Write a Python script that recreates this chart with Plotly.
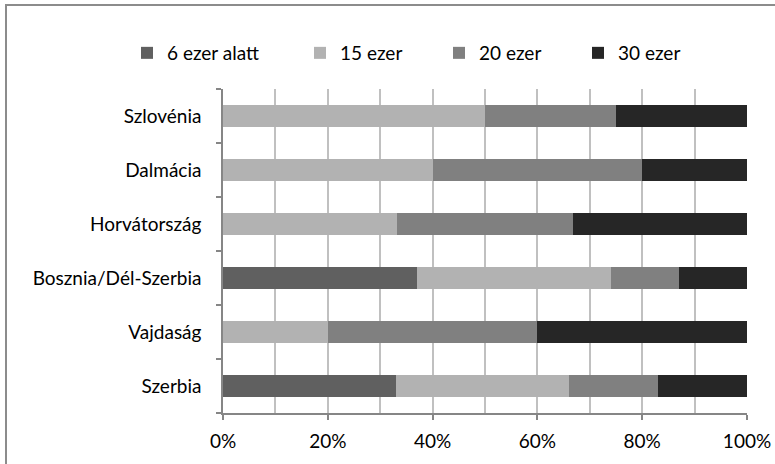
import plotly.graph_objects as go

categories = ["Szerbia", "Vajdaság", "Bosznia/Dél-Szerbia", "Horvátország", "Dalmácia", "Szlovénia"]
series_names = ["6 ezer alatt", "15 ezer", "20 ezer", "30 ezer"]
s_6ezer = [33, 0, 37, 0, 0, 0]
s_15ezer = [33, 20, 37, 33.3, 40, 50]
s_20ezer = [17, 40, 13, 33.4, 40, 25]
s_30ezer = [17, 40, 13, 33.3, 20, 25]
x_tick_vals = [0, 20, 40, 60, 80, 100]
x_tick_text = ["0%", "20%", "40%", "60%", "80%", "100%"]

colors = ["#606060", "#b2b2b2", "#808080", "#262626"]
series = [s_6ezer, s_15ezer, s_20ezer, s_30ezer]

FONT = "Lato"
FS = 19
W, H = 775, 464
ML, MR, MT, MB = 223, 28, 89, 51
PW, PH = W - ML - MR, H - MT - MB

legend_px = [147, 320, 459, 598]

fig = go.Figure()
for i, (name, vals, col) in enumerate(zip(series_names, series, colors)):
    fig.add_trace(go.Bar(
        y=categories, x=vals, name=name, orientation="h",
        marker=dict(color=col, line=dict(width=0)),
        legend="legend" if i == 0 else f"legend{i+1}",
    ))

def px2paper_x(px):
    return (px - ML) / PW

legend_common = dict(orientation="h", yanchor="middle", y=(H - MB - 53) / PH,
                     xanchor="left", font=dict(family=FONT, size=FS, color="#000000"),
                     bgcolor="rgba(0,0,0,0)", borderwidth=0)
layout_legends = {}
for i, px in enumerate(legend_px):
    key = "legend" if i == 0 else f"legend{i+1}"
    layout_legends[key] = dict(x=px2paper_x(px - 20), **legend_common)

fig.update_layout(
    width=W, height=H, autosize=False,
    margin=dict(l=ML, r=MR, t=MT, b=MB, autoexpand=False),
    barmode="stack", bargap=0.6,
    paper_bgcolor="white", plot_bgcolor="white",
    font=dict(family=FONT, size=FS, color="#000000"),
    showlegend=True,
    xaxis=dict(range=[0, 100], tickvals=x_tick_vals, ticktext=x_tick_text,
               showgrid=True, gridcolor="#c0c0c0", gridwidth=1.5,
               minor=dict(dtick=10, showgrid=True, gridcolor="#c0c0c0", gridwidth=1.5),
               showline=True, linecolor="#868686", linewidth=1.5,
               ticks="outside", ticklen=5, tickcolor="#868686", tickwidth=1.5,
               ticklabelstandoff=5, zeroline=False, fixedrange=True, automargin=False),
    yaxis=dict(categoryorder="array", categoryarray=categories,
               showgrid=False, showline=True, linecolor="#868686", linewidth=1.5,
               ticks="outside", ticklen=5, tickcolor="#868686", tickwidth=1.5,
               tickson="boundaries", ticklabelstandoff=16, fixedrange=True, automargin=False),
    shapes=[dict(type="rect", xref="paper", yref="paper",
                 x0=(6 - ML) / PW, x1=(790 - ML) / PW,
                 y0=(H - MB - 480) / PH, y1=(H - MB - 5) / PH,
                 line=dict(color="#8c8c8c", width=2), fillcolor="rgba(0,0,0,0)", layer="below")],
    **layout_legends,
)

fig.write_html("out.html", config={"displayModeBar": False},
               post_script="document.body.style.margin='0px';document.body.style.padding='0px';")
